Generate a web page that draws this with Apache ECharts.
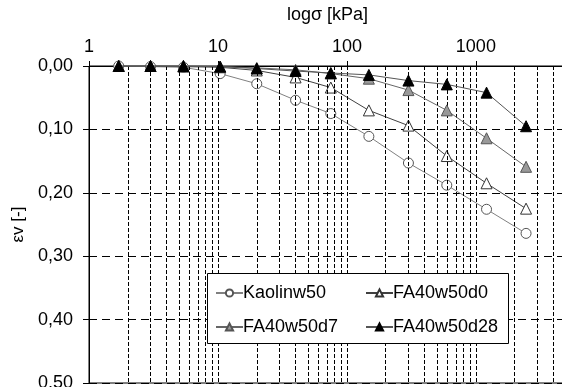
<!DOCTYPE html>
<html>
<head>
<meta charset="utf-8">
<script src="https://cdn.jsdelivr.net/npm/echarts@6/dist/echarts.min.js"></script>
<style>html,body{margin:0;padding:0;background:#fff;}#c{width:562px;height:387px;}</style>
</head>
<body>
<div id="c"></div>
<script>
// stress levels [kPa]
const pressure = [1.7, 3.0, 5.4, 10.4, 20, 40, 75, 148, 300, 595, 1210, 2450];
// volumetric strain per series
const kaolinw50  = [0, 0.001, 0.002, 0.012, 0.028, 0.054, 0.075, 0.111, 0.153, 0.188, 0.226, 0.264];
const fa40w50d0  = [0, 0, 0.001, 0.002, 0.007, 0.018, 0.034, 0.070, 0.094, 0.142, 0.185, 0.225];
const fa40w50d7  = [0, 0, 0, 0.001, 0.003, 0.006, 0.012, 0.020, 0.038, 0.070, 0.114, 0.159];
const fa40w50d28 = [0, 0, 0, 0.001, 0.004, 0.008, 0.011, 0.014, 0.023, 0.029, 0.042, 0.095];
const seriesNames = ['Kaolinw50', 'FA40w50d0', 'FA40w50d7', 'FA40w50d28'];
// minor log grid values
const gridValues = [2,3,4,5,6,7,8,9,10,20,30,40,50,60,70,80,90,100,200,300,400,500,600,700,800,900,1000,2000,3000,4000];

const FONT = 'Liberation Sans, Arial, sans-serif';
const pair = arr => pressure.map((p, i) => [p, arr[i]]);

const chart = echarts.init(document.getElementById('c'), null, {renderer: 'canvas'});
chart.setOption({
  animation: false,
  backgroundColor: '#fff',
  textStyle: {fontFamily: FONT},
  grid: {left: 89, right: -4, top: 66, bottom: 4, outerBoundsMode: 'none', containLabel: false,
    show: true, borderColor: '#000', borderWidth: 1, backgroundColor: 'transparent'},
  xAxis: {
    type: 'log', logBase: 10, min: 1, max: 5000, position: 'top',
    name: 'logσ [kPa]', nameLocation: 'middle', nameGap: 42,
    nameTextStyle: {fontSize: 18, color: '#000', fontFamily: FONT},
    axisLine: {show: true, lineStyle: {color: '#000', width: 1}},
    axisTick: {show: true, inside: false, length: 5, lineStyle: {color: '#000'}},
    axisLabel: {fontSize: 18, color: '#000', margin: 10, showMaxLabel: false, fontFamily: FONT,
      formatter: v => String(Math.round(v))},
    splitLine: {show: false}
  },
  yAxis: {
    type: 'value', inverse: true, min: 0, max: 0.5, interval: 0.1,
    name: 'εv [-]', nameLocation: 'middle', nameGap: 57, nameRotate: 90,
    nameTextStyle: {fontSize: 17, color: '#000', fontFamily: FONT},
    axisLine: {show: true, lineStyle: {color: '#000', width: 1}},
    axisTick: {show: true, length: 6, lineStyle: {color: '#000'}},
    axisLabel: {fontSize: 18, color: '#000', margin: 16, fontFamily: FONT,
      formatter: v => v.toFixed(2).replace('.', ',')},
    splitLine: {show: true, lineStyle: {color: '#000', width: 1, type: [8, 5]}}
  },
  legend: [
    {data: [seriesNames[0], seriesNames[2]], orient: 'vertical', left: 210, top: 279,
     itemWidth: 27, itemHeight: 9, itemGap: 16, z: 20,
     textStyle: {fontSize: 18, color: '#000', fontFamily: FONT, padding: [0,0,0,-5]}},
    {data: [seriesNames[1], seriesNames[3]], orient: 'vertical', left: 360, top: 279,
     itemWidth: 27, itemHeight: 9, itemGap: 16, z: 20,
     textStyle: {fontSize: 18, color: '#000', fontFamily: FONT, padding: [0,0,0,-5]}}
  ],
  graphic: [{
    type: 'rect', left: 207, top: 273, z: 10,
    shape: {width: 301, height: 70},
    style: {fill: '#fff', stroke: '#000', lineWidth: 1}
  }],
  series: [
    {name: seriesNames[0], type: 'line', data: pair(kaolinw50), symbol: 'circle', symbolSize: 10,
     lineStyle: {color: '#808080', width: 1}, itemStyle: {color: '#fff', borderColor: '#555', borderWidth: 1}, z: 3,
     markLine: {silent: true, symbol: 'none', label: {show: false}, animation: false,
       lineStyle: {color: '#000', width: 1, type: [4, 2]},
       emphasis: {disabled: true},
       data: gridValues.map(v => ({xAxis: v}))}},
    {name: seriesNames[1], type: 'line', data: pair(fa40w50d0), symbol: 'triangle', symbolSize: 11,
     lineStyle: {color: '#404040', width: 1}, itemStyle: {color: '#fff', borderColor: '#333', borderWidth: 1}, z: 4},
    {name: seriesNames[2], type: 'line', data: pair(fa40w50d7), symbol: 'triangle', symbolSize: 11,
     lineStyle: {color: '#666', width: 1}, itemStyle: {color: '#999', borderColor: '#555', borderWidth: 1}, z: 5},
    {name: seriesNames[3], type: 'line', data: pair(fa40w50d28), symbol: 'triangle', symbolSize: 11,
     lineStyle: {color: '#555', width: 1}, itemStyle: {color: '#000', borderColor: '#000', borderWidth: 1}, z: 6}
  ]
});
</script>
</body>
</html>
